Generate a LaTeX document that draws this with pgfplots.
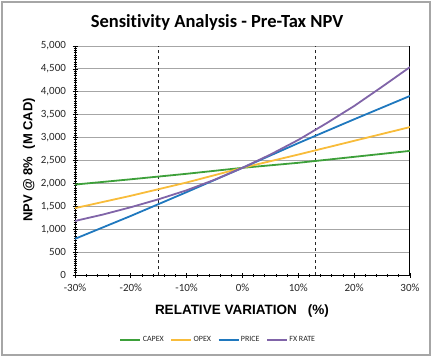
\documentclass[border=0pt]{standalone}
\usepackage{fontspec}
\setmainfont{Carlito}[Ligatures={NoCommon}]
\newfontfamily\arialf{Liberation Sans}
\usepackage{pgfplots}
\pgfplotsset{compat=1.18}
\definecolor{cCapex}{HTML}{3DA03A}
\definecolor{cOpex}{HTML}{F8BC3A}
\definecolor{cPrice}{HTML}{1F78BE}
\definecolor{cFx}{HTML}{8064A8}
\definecolor{cGrid}{HTML}{A6A6A6}
\begin{document}
\begin{tikzpicture}[x=1pt,y=1pt]
\useasboundingbox (0,0) rectangle (434,360);
\draw[cGrid, line width=1.5pt] (2,5) rectangle (430,358);
\begin{axis}[
  at={(75pt,85pt)}, anchor=south west,
  scale only axis, width=335pt, height=229pt,
  xmin=-30, xmax=30, ymin=0, ymax=5000,
  axis x line*=bottom, axis y line*=box,
  ytick pos=left,
  axis line style={black, line width=1pt},
  xtick={-30,-20,...,30},
  xticklabels={-30\%,-20\%,-10\%,0\%,10\%,20\%,30\%},
  ytick={0,500,...,5000},
  yticklabels={0,500,{1,000},{1,500},{2,000},{2,500},{3,000},{3,500},{4,000},{4,500},{5,000}},
  minor x tick num=4, minor y tick num=9,
  tick align=center,
  major tick length=5pt, minor tick length=3pt,
  every tick/.style={black, line width=0.8pt},
  ymajorgrids, major grid style={cGrid, line width=0.9pt},
  tick label style={font=\fontsize{11}{12}\selectfont, text=black!85},
  xticklabel style={yshift=-3pt},
  yticklabel style={xshift=-3pt},
  legend columns=4,
  legend style={at={(0.427,-0.284)}, anchor=center, draw=none, fill=none,
     inner xsep=1pt,
     nodes={inner xsep=1.5pt},
     font=\fontsize{8}{10}\selectfont, text=black!85,
     /tikz/every even column/.append style={column sep=5pt}},
  legend image code/.code={\draw[#1, line width=1.8pt] (0pt,0pt) -- (20pt,0pt);},
]
\addplot[black!85, dashed, line width=0.6pt, forget plot] coordinates {(-15,0) (-15,5000)};
\addplot[black!85, dashed, line width=0.6pt, forget plot] coordinates {(13,0) (13,5000)};
\addplot[cCapex, line width=1.8pt] coordinates {(-30,1975) (-20,2090) (-10,2210) (0,2340) (10,2450) (20,2580) (30,2710)};
\addlegendentry{CAPEX}
\addplot[cOpex, line width=1.8pt] coordinates {(-30,1460) (-20,1730) (-10,2020) (0,2340) (10,2630) (20,2930) (30,3230)};
\addlegendentry{OPEX}
\addplot[cPrice, line width=1.8pt] coordinates {(-30,790) (-20,1290) (-10,1810) (0,2340) (10,2880) (20,3400) (30,3910)};
\addlegendentry{PRICE}
\addplot[cFx, line width=1.8pt] coordinates {(-30,1180) (-25,1320) (-20,1480) (-15,1655) (-10,1850) (-5,2080) (0,2340) (5,2630) (10,2950) (15,3310) (20,3690) (25,4110) (30,4540)};
\addlegendentry{FX RATE}
\end{axis}
\node[font=\fontsize{18.5}{20}\selectfont\bfseries] at (217,338) {Sensitivity Analysis - Pre-Tax NPV};
\node[font=\arialf\fontsize{13}{15}\selectfont\bfseries, rotate=90] at (29,200) {NPV @ 8\%\ \ (M CAD)};
\node[font=\arialf\fontsize{13.5}{15}\selectfont\bfseries] at (242,49) {RELATIVE VARIATION\ \ \ (\%)};
\end{tikzpicture}
\end{document}
